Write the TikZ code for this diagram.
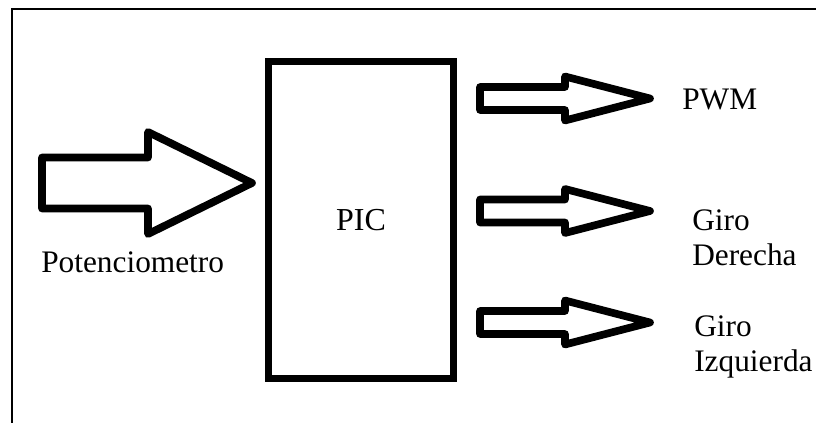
\documentclass[tikz,border=0pt]{standalone}
\usepackage{fontspec}
\setmainfont{Liberation Serif}

\tikzset{%
  frame line/.style={
    line width=1.5pt
  },
  chip box/.style={
    draw,
    line width=5.25pt,
    minimum width=138.75pt,
    minimum height=238.3pt,
    font=\fontsize{24}{26.25}\selectfont
  },
  block arrow/.style={
    draw,
    line width=5.75pt,
    line join=round
  },
  signal label/.style={
    font=\fontsize{23.5}{26.25}\selectfont,
    inner sep=0pt,
    align=left
  },
}

\begin{document}
\begin{tikzpicture}[x=0.75pt, y=-0.75pt]

    \useasboundingbox (0,0) rectangle (816,423);

    % outer frame
    \draw [frame line] (12,423) -- (12,9) -- (816,9);

    \node [chip box] (pic) at (361,220) {PIC};

    % input arrow
    \draw [block arrow] (42,157.5) -- (148,157.5) -- (148,132) -- (252,183)
      -- (148,234) -- (148,208.5) -- (42,208.5) -- cycle;

    \node [signal label, anchor=base west] (pot) at (41,273) {Potenciometro};

    % output arrows
    \foreach \c in {98.5,211,322.5}
      \draw [block arrow] (480,\c-11.5) -- (565,\c-11.5) -- (565,\c-22) -- (650,\c)
        -- (565,\c+22) -- (565,\c+11.5) -- (480,\c+11.5) -- cycle;

    \node [signal label, anchor=base west] (pwm) at (682,110) {PWM};
    \node [signal label, anchor=base west] (derecha) at (692,266) {Giro\\Derecha};
    \node [signal label, anchor=base west] (izquierda) at (694,372) {Giro\\Izquierda};

\end{tikzpicture}
\end{document}
